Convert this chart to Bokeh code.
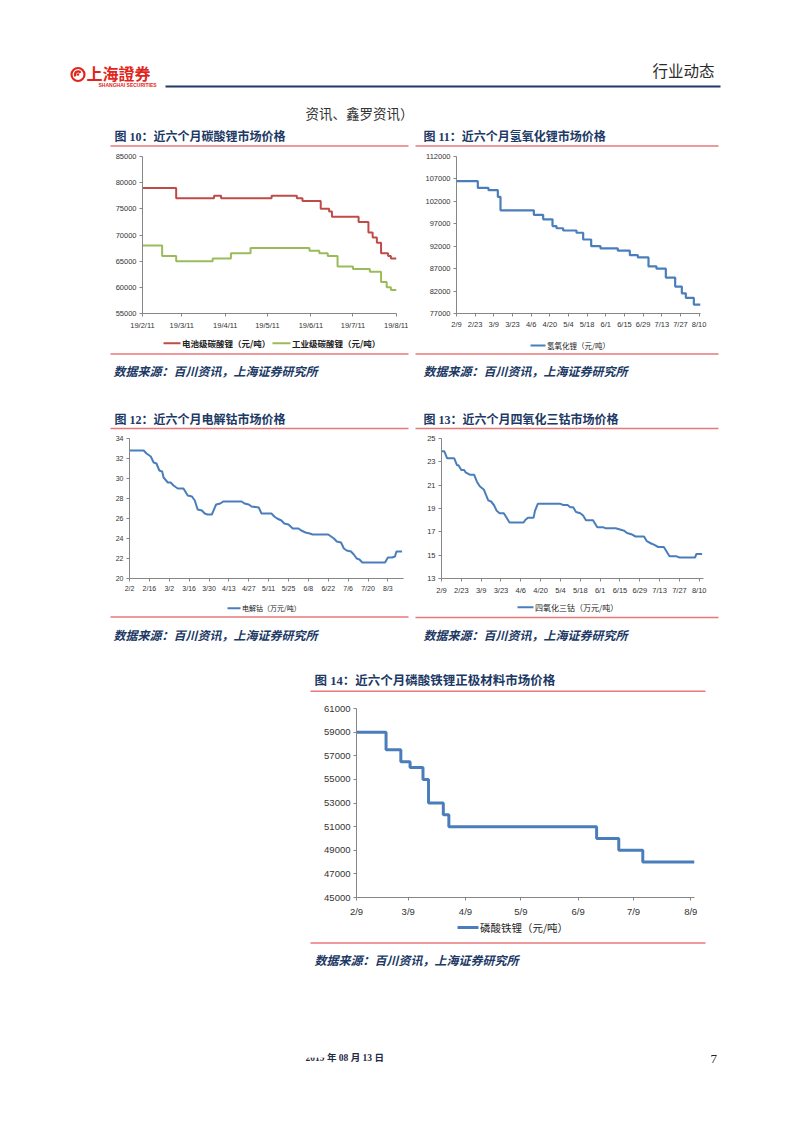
import pandas as pd
from bokeh.plotting import figure
from bokeh.layouts import column, row
from bokeh.models import Range1d, FixedTicker, BasicTickFormatter, Spacer, ColumnDataSource
from bokeh.core.properties import value
from bokeh.embed import file_html
from bokeh.resources import INLINE

# ---------------- data ----------------
# Fig 10: lithium carbonate (yuan/ton), step change points
c10_range = ["2019-02-11", "2019-08-11"]
c10_tick_dates = ["2019-02-11", "2019-03-11", "2019-04-11", "2019-05-11",
                  "2019-06-11", "2019-07-11", "2019-08-11"]
c10_tick_labels = ["19/2/11", "19/3/11", "19/4/11", "19/5/11", "19/6/11", "19/7/11", "19/8/11"]
c10_y_ticks = [55000, 60000, 65000, 70000, 75000, 80000, 85000]
c10_battery_dates = ["2019-02-11", "2019-03-07", "2019-04-03", "2019-04-08", "2019-05-14",
                     "2019-06-01", "2019-06-05", "2019-06-18", "2019-06-24", "2019-06-26",
                     "2019-07-15", "2019-07-22", "2019-07-25", "2019-07-28", "2019-07-31",
                     "2019-08-05", "2019-08-07", "2019-08-11"]
c10_battery_values = [79000, 77000, 77500, 77000, 77500, 77000, 76500, 75000, 74500, 73500,
                      72500, 70500, 69500, 68500, 66500, 66000, 65500, 65500]
c10_industrial_dates = ["2019-02-11", "2019-02-25", "2019-03-07", "2019-04-02", "2019-04-15",
                        "2019-04-29", "2019-06-10", "2019-06-17", "2019-06-23", "2019-06-30",
                        "2019-07-11", "2019-07-23", "2019-07-31", "2019-08-04", "2019-08-07",
                        "2019-08-11"]
c10_industrial_values = [68000, 66000, 65000, 65500, 66500, 67500, 67000, 66500, 66000, 64000,
                         63500, 63000, 61000, 60000, 59500, 59500]
c10_series_names = ["电池级碳酸锂（元/吨）", "工业级碳酸锂（元/吨）"]

# Fig 11: lithium hydroxide (yuan/ton)
c11_range = ["2019-02-09", "2019-08-11"]
c11_tick_dates = ["2019-02-09", "2019-02-23", "2019-03-09", "2019-03-23", "2019-04-06",
                  "2019-04-20", "2019-05-04", "2019-05-18", "2019-06-01", "2019-06-15",
                  "2019-06-29", "2019-07-13", "2019-07-27", "2019-08-10"]
c11_tick_labels = ["2/9", "2/23", "3/9", "3/23", "4/6", "4/20", "5/4", "5/18", "6/1", "6/15",
                   "6/29", "7/13", "7/27", "8/10"]
c11_y_ticks = [77000, 82000, 87000, 92000, 97000, 102000, 107000, 112000]
c11_dates = ["2019-02-09", "2019-02-25", "2019-03-05", "2019-03-12", "2019-03-14", "2019-04-08",
             "2019-04-15", "2019-04-22", "2019-04-25", "2019-04-30", "2019-05-10", "2019-05-15",
             "2019-05-21", "2019-05-28", "2019-06-10", "2019-06-19", "2019-06-25", "2019-07-03",
             "2019-07-09", "2019-07-16", "2019-07-23", "2019-07-28", "2019-07-31", "2019-08-06",
             "2019-08-11"]
c11_values = [106500, 105000, 104500, 103000, 100000, 99000, 98000, 96500, 96000, 95500, 95000,
              93500, 92000, 91500, 91000, 90000, 89500, 87500, 87000, 85000, 83000, 81500,
              80500, 79000, 79000]
c11_series_name = "氢氧化锂（元/吨）"

# Fig 12: electrolytic cobalt (10k yuan/ton)
c12_range = ["2019-02-02", "2019-08-14"]
c12_tick_dates = ["2019-02-02", "2019-02-16", "2019-03-02", "2019-03-16", "2019-03-30",
                  "2019-04-13", "2019-04-27", "2019-05-11", "2019-05-25", "2019-06-08",
                  "2019-06-22", "2019-07-06", "2019-07-20", "2019-08-03"]
c12_tick_labels = ["2/2", "2/16", "3/2", "3/16", "3/30", "4/13", "4/27", "5/11", "5/25", "6/8",
                   "6/22", "7/6", "7/20", "8/3"]
c12_y_ticks = [20, 22, 24, 26, 28, 30, 32, 34]
c12_dates = ["2019-02-02", "2019-02-12", "2019-02-14", "2019-02-17", "2019-02-19", "2019-02-21",
             "2019-02-23", "2019-02-25", "2019-02-26", "2019-03-01", "2019-03-03", "2019-03-05",
             "2019-03-08", "2019-03-12", "2019-03-15", "2019-03-18", "2019-03-20", "2019-03-22",
             "2019-03-25", "2019-03-27", "2019-03-29", "2019-04-01", "2019-04-04", "2019-04-07",
             "2019-04-09", "2019-04-22", "2019-04-24", "2019-04-27", "2019-04-29", "2019-05-04",
             "2019-05-06", "2019-05-13", "2019-05-15", "2019-05-17", "2019-05-20", "2019-05-22",
             "2019-05-25", "2019-05-28", "2019-06-01", "2019-06-03", "2019-06-06", "2019-06-09",
             "2019-06-11", "2019-06-22", "2019-06-24", "2019-06-26", "2019-06-28", "2019-07-01",
             "2019-07-03", "2019-07-05", "2019-07-08", "2019-07-10", "2019-07-12", "2019-07-14",
             "2019-07-16", "2019-08-01", "2019-08-03", "2019-08-06", "2019-08-08", "2019-08-09",
             "2019-08-13"]
c12_values = [32.8, 32.8, 32.5, 32.2, 31.6, 31.5, 30.8, 30.7, 30.1, 29.6, 29.6, 29.3,
              29.0, 29.0, 28.3, 28.2, 27.8, 26.9, 26.8, 26.5, 26.4, 26.4, 27.4, 27.5,
              27.7, 27.7, 27.5, 27.4, 27.2, 27.1, 26.5, 26.5, 26.2, 26.0, 25.8, 25.5,
              25.4, 25.0, 25.0, 24.8, 24.6, 24.5, 24.4, 24.4, 24.2, 24.0, 23.7, 23.6,
              23.0, 22.8, 22.7, 22.4, 22.0, 21.9, 21.6, 21.6, 22.1, 22.1, 22.2, 22.7, 22.7]
c12_series_name = "电解钴（万元/吨）"

# Fig 13: cobalt tetroxide (10k yuan/ton)
c13_range = ["2019-02-09", "2019-08-13"]
c13_tick_dates = c11_tick_dates
c13_tick_labels = c11_tick_labels
c13_y_ticks = [13, 15, 17, 19, 21, 23, 25]
c13_dates = ["2019-02-09", "2019-02-11", "2019-02-13", "2019-02-18", "2019-02-20", "2019-02-21",
             "2019-02-23", "2019-02-25", "2019-02-26", "2019-03-01", "2019-03-04", "2019-03-06",
             "2019-03-08", "2019-03-11", "2019-03-14", "2019-03-16", "2019-03-18", "2019-03-20",
             "2019-03-22", "2019-03-25", "2019-03-27", "2019-03-29", "2019-04-08", "2019-04-09",
             "2019-04-11", "2019-04-15", "2019-04-16", "2019-04-18", "2019-05-04", "2019-05-06",
             "2019-05-09", "2019-05-11", "2019-05-13", "2019-05-15", "2019-05-18", "2019-05-20",
             "2019-05-22", "2019-05-27", "2019-05-30", "2019-06-03", "2019-06-05", "2019-06-12",
             "2019-06-15", "2019-06-18", "2019-06-20", "2019-06-23", "2019-06-26", "2019-07-02",
             "2019-07-04", "2019-07-07", "2019-07-09", "2019-07-12", "2019-07-16", "2019-07-20",
             "2019-07-25", "2019-07-27", "2019-08-07", "2019-08-08", "2019-08-12"]
c13_values = [23.9, 23.9, 23.3, 23.3, 22.7, 22.7, 22.3, 22.3, 22.1, 21.9, 21.9, 21.3,
              20.9, 20.6, 19.7, 19.6, 19.3, 18.8, 18.6, 18.6, 18.2, 17.8, 17.8, 18.0,
              18.2, 18.2, 18.8, 19.4, 19.4, 19.3, 19.3, 19.1, 19.1, 18.7, 18.6, 18.4,
              18.0, 18.0, 17.4, 17.4, 17.3, 17.3, 17.2, 17.1, 16.9, 16.8, 16.6, 16.6,
              16.2, 16.0, 15.9, 15.7, 15.7, 14.9, 14.9, 14.8, 14.8, 15.1, 15.1]
c13_series_name = "四氧化三钴（万元/吨）"

# Fig 14: LFP cathode (yuan/ton), step change points
c14_range = ["2019-02-09", "2019-08-11"]
c14_tick_dates = ["2019-02-09", "2019-03-09", "2019-04-09", "2019-05-09", "2019-06-09",
                  "2019-07-09", "2019-08-09"]
c14_tick_labels = ["2/9", "3/9", "4/9", "5/9", "6/9", "7/9", "8/9"]
c14_y_ticks = [45000, 47000, 49000, 51000, 53000, 55000, 57000, 59000, 61000]
c14_dates = ["2019-02-09", "2019-02-25", "2019-03-05", "2019-03-10", "2019-03-17", "2019-03-20",
             "2019-03-28", "2019-03-31", "2019-06-19", "2019-07-01", "2019-07-14", "2019-08-11"]
c14_values = [59000, 57500, 56500, 56000, 55000, 53000, 52000, 51000, 50000, 49000, 48000, 48000]
c14_series_name = "磷酸铁锂（元/吨）"

# page texts
header_right = "行业动态"
carry_over_text = "资讯、鑫罗资讯）"
titles = ["图 10：近六个月碳酸锂市场价格", "图 11：近六个月氢氧化锂市场价格",
          "图 12：近六个月电解钴市场价格", "图 13：近六个月四氧化三钴市场价格",
          "图 14：近六个月磷酸铁锂正极材料市场价格"]
source_text = "数据来源：百川资讯，上海证券研究所"
footer_date = "2019 年 08 月 13 日"
page_number = "7"

# ---------------- styles ----------------
CJK = "Noto Sans CJK SC"
SERIF_CJK = "'Liberation Serif', 'Noto Sans CJK SC'"
NAVY = "#203864"
PINK = "#E8787A"
RED_LOGO = "#E1251B"
BLUE = "#4A7EBB"
RED = "#BE4B48"
GREEN = "#9BBB59"
AXIS = "#868686"
PAGE_W = 786


def to_ms(dates):
    ts = pd.to_datetime(pd.Series(dates))
    return [int(v) for v in (ts - pd.Timestamp("1970-01-01")) // pd.Timedelta(milliseconds=1)]


def band(y0, y1):
    p = figure(width=PAGE_W, height=int(y1 - y0), x_range=Range1d(0, PAGE_W),
               y_range=Range1d(y1, y0), output_backend="svg", toolbar_location=None,
               x_axis_location=None, y_axis_location=None, min_border=0,
               outline_line_color=None, background_fill_color="white",
               border_fill_color="white")
    p.xgrid.visible = False
    p.ygrid.visible = False
    return p


def txt(p, x, y, s, size, color, font=CJK, style="normal", align="left"):
    p.text(x=[x], y=[y], text=[s], text_font=value(font), text_font_size=value(size),
           text_color=color, text_font_style=style, text_baseline="middle", text_align=align)


def hline(p, x0, x1, y, color=PINK, width=1.5):
    p.segment(x0=[x0], y0=[y], x1=[x1], y1=[y], line_color=color, line_width=width)


def legend_entry(p, x0, x1, y, color, lw, label, size, bold=False):
    hline(p, x0, x1, y, color=color, width=lw)
    txt(p, x1 + 1.5, y, label, size, "#222222", style="bold" if bold else "normal")


def chart(width, height, xr, yticks, borders, tick_dates, tick_labels, label_size, standoff):
    l, r, t, b = borders
    p = figure(width=width, height=height, x_axis_type="datetime",
               x_range=Range1d(pd.Timestamp(xr[0]), pd.Timestamp(xr[1])),
               y_range=Range1d(yticks[0], yticks[-1]), output_backend="svg",
               toolbar_location=None, min_border_left=l, min_border_right=r,
               min_border_top=t, min_border_bottom=b, outline_line_color=None,
               background_fill_color="white", border_fill_color="white")
    p.xgrid.visible = False
    p.ygrid.visible = False
    ticks = to_ms(tick_dates)
    p.xaxis.ticker = FixedTicker(ticks=ticks)
    p.xaxis.major_label_overrides = dict(zip(ticks, tick_labels))
    p.yaxis.ticker = FixedTicker(ticks=yticks)
    p.yaxis.formatter = BasicTickFormatter(use_scientific=False)
    for ax in (p.xaxis[0], p.yaxis[0]):
        ax.axis_line_color = AXIS
        ax.major_tick_line_color = AXIS
        ax.minor_tick_line_color = None
        ax.major_tick_out = 3
        ax.major_tick_in = 0
        ax.major_label_text_font = "Liberation Sans"
        ax.major_label_text_font_size = label_size
        ax.major_label_text_color = "#333333"
    p.xaxis.major_label_standoff = standoff
    p.yaxis.major_label_standoff = 3
    return p


# ---------------- band 1: header ----------------
b1 = band(0, 147)
b1.circle(x=[77.5], y=[74], radius=6.5, fill_color=None, line_color=RED_LOGO, line_width=2.2)
b1.annular_wedge(x=[77.5], y=[74], inner_radius=1.8, outer_radius=4.2, start_angle=0.6,
                 end_angle=3.8, fill_color=RED_LOGO, line_color=None)
b1.circle(x=[77.5], y=[74], radius=1.2, fill_color=RED_LOGO, line_color=None)
txt(b1, 86, 72, "上海證券", "16px", RED_LOGO, style="bold")
txt(b1, 98, 84.5, "SHANGHAI SECURITIES", "5px", RED_LOGO, font="Liberation Sans", style="bold")
hline(b1, 165, 720, 86, color="#1F3864", width=2)
txt(b1, 652, 69, header_right, "15.5px", "#2B2B2B")
txt(b1, 305, 112.5, carry_over_text, "13.5px", "#333333")
txt(b1, 114, 136, titles[0], "12px", NAVY, font=SERIF_CJK, style="bold")
txt(b1, 423, 136.5, titles[1], "12px", NAVY, font=SERIF_CJK, style="bold")
hline(b1, 110, 408, 145.5)
hline(b1, 415, 718, 145.5)

# ---------------- band 2: figs 10 and 11 (page y 147..334) ----------------
p10 = chart(298, 187, c10_range, c10_y_ticks, (32, 12, 9, 21), c10_tick_dates, c10_tick_labels,
            "7.5px", 4)
s10a = ColumnDataSource(dict(x=pd.to_datetime(c10_battery_dates), y=c10_battery_values))
s10b = ColumnDataSource(dict(x=pd.to_datetime(c10_industrial_dates), y=c10_industrial_values))
p10.step("x", "y", source=s10a, mode="after", line_color=RED, line_width=2)
p10.step("x", "y", source=s10b, mode="after", line_color=GREEN, line_width=2)

p11 = chart(305, 187, c11_range, c11_y_ticks, (41, 20, 7, 17), c11_tick_dates, c11_tick_labels,
            "7.5px", 3)
s11 = ColumnDataSource(dict(x=pd.to_datetime(c11_dates), y=c11_values))
p11.step("x", "y", source=s11, mode="after", line_color=BLUE, line_width=2.2)

# ---------------- band 3 (page y 334..430) ----------------
b3 = band(334, 430)
legend_entry(b3, 163, 180, 342.7, RED, 2, c10_series_names[0], "8.5px", bold=True)
legend_entry(b3, 272, 290, 342.7, GREEN, 2, c10_series_names[1], "8.5px", bold=True)
legend_entry(b3, 530, 545, 345, BLUE, 2.2, c11_series_name, "7.5px")
hline(b3, 110, 408, 353.5)
hline(b3, 415, 718, 353.5)
txt(b3, 113, 370, source_text, "12px", NAVY, style="bold italic")
txt(b3, 423, 370, source_text, "12px", NAVY, style="bold italic")
txt(b3, 114, 419, titles[2], "12px", NAVY, font=SERIF_CJK, style="bold")
txt(b3, 423, 419, titles[3], "12px", NAVY, font=SERIF_CJK, style="bold")
hline(b3, 110, 408, 428)
hline(b3, 415, 718, 428)

# ---------------- band 4: figs 12 and 13 (page y 430..600) ----------------
p12 = chart(298, 170, c12_range, c12_y_ticks, (19, 5, 7, 17), c12_tick_dates, c12_tick_labels,
            "7px", 3)
s12 = ColumnDataSource(dict(x=pd.to_datetime(c12_dates), y=c12_values))
p12.line("x", "y", source=s12, line_color=BLUE, line_width=2)

p13 = chart(305, 170, c13_range, c13_y_ticks, (26, 17, 8, 22), c13_tick_dates, c13_tick_labels,
            "7.5px", 4)
s13 = ColumnDataSource(dict(x=pd.to_datetime(c13_dates), y=c13_values))
p13.line("x", "y", source=s13, line_color=BLUE, line_width=2)

# ---------------- band 5 (page y 600..693) ----------------
b5 = band(600, 693)
legend_entry(b5, 227, 240, 607.7, BLUE, 2, c12_series_name, "7px")
legend_entry(b5, 517, 533, 606.7, BLUE, 2, c13_series_name, "8px")
hline(b5, 110, 408, 616.5)
hline(b5, 415, 718, 617)
txt(b5, 113, 633.5, source_text, "12px", NAVY, style="bold italic")
txt(b5, 423, 633.5, source_text, "12px", NAVY, style="bold italic")
txt(b5, 314, 680.5, titles[4], "12.5px", NAVY, font=SERIF_CJK, style="bold")
hline(b5, 310, 705, 690.7)

# ---------------- band 6: fig 14 (page y 693..919) ----------------
p14 = chart(395, 226, c14_range, c14_y_ticks, (46, 11, 15, 20), c14_tick_dates, c14_tick_labels,
            "9.5px", 5)
s14 = ColumnDataSource(dict(x=pd.to_datetime(c14_dates), y=c14_values))
p14.step("x", "y", source=s14, mode="after", line_color=BLUE, line_width=3)

# ---------------- band 7 (page y 919..1117) ----------------
b7 = band(919, 1117)
legend_entry(b7, 457, 478, 927, BLUE, 3, c14_series_name, "10.5px")
hline(b7, 310, 705, 942.5)
txt(b7, 314, 958.5, source_text, "12px", NAVY, style="bold italic")
txt(b7, 305, 1057.5, footer_date, "9.5px", "#1F2A44", font=SERIF_CJK, style="bold")
b7.quad(left=[303], right=[326], bottom=[1057.2], top=[1050], fill_color="white", line_color=None)
txt(b7, 710, 1058, page_number, "13px", "#222222", font="Liberation Serif")

layout = column(
    b1,
    row(Spacer(width=110, height=187), p10, Spacer(width=7, height=187), p11,
        Spacer(width=66, height=187)),
    b3,
    row(Spacer(width=110, height=170), p12, Spacer(width=7, height=170), p13,
        Spacer(width=66, height=170)),
    b5,
    row(Spacer(width=310, height=226), p14, Spacer(width=81, height=226)),
    b7,
)

open("out.html", "w").write(file_html(layout, INLINE))
